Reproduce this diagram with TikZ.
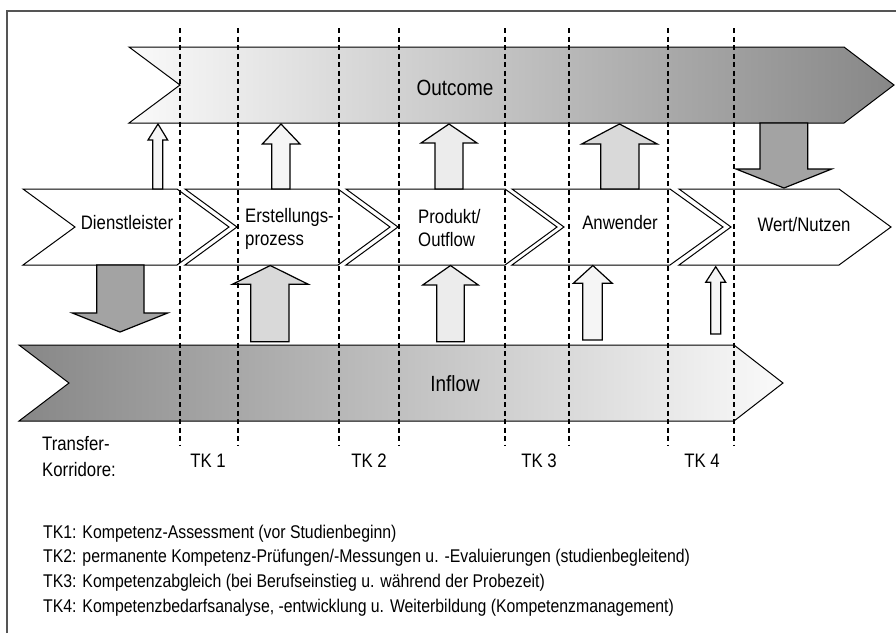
\documentclass[tikz,border=0pt]{standalone}
\usepackage{fontspec}
\setmainfont{Liberation Sans}[FakeStretch=0.86]
\usepackage{xcolor}

\definecolor{framegray}{HTML}{555555}
\definecolor{banddark}{HTML}{878787}
\definecolor{bandlight}{HTML}{FAFAFA}
\definecolor{arrowdark}{HTML}{A3A3A3}
\definecolor{arrowmid}{HTML}{D9D9D9}
\definecolor{arrowlight}{HTML}{ECECEC}
\definecolor{arrowpale}{HTML}{F5F5F5}

\tikzset{
    band/.style={draw=black, line width=1pt},
    stage/.style={draw=black, fill=white, line width=1pt},
    blockarrow/.style={draw=black, line width=1.2pt, line join=miter},
    corridor/.style={black, line width=1.2pt, dash pattern=on 5pt off 3.5pt},
    bigtext/.style={font=\fontsize{22}{26}\selectfont},
    boxtext/.style={font=\fontsize{19.5}{23}\selectfont},
    legtext/.style={font=\fontsize{18.4}{22}\selectfont, anchor=base west, inner sep=0pt},
}

\begin{document}
\begin{tikzpicture}[x=1pt,y=-1pt]
                \useasboundingbox (0,0) rectangle (896,633);
                \draw[framegray, line width=2pt] (7,633) -- (7,11) -- (896,11);

                \path[band, left color=bandlight, right color=banddark] (129,47) -- (844,47) -- (894,85) -- (844,123) -- (129,123) -- (180,85) -- cycle;
                \path[band, left color=banddark, right color=bandlight] (19,345) -- (734,345) -- (783,383) -- (734,421) -- (19,421) -- (69,383) -- cycle;

                \filldraw[stage] (23,189) -- (177,189) -- (229,227) -- (177,265) -- (23,265) -- (75,227) -- cycle;
                \filldraw[stage] (185,189) -- (338,189) -- (390,227) -- (338,265) -- (185,265) -- (237,227) -- cycle;
                \filldraw[stage] (346,189) -- (505,189) -- (557,227) -- (505,265) -- (346,265) -- (398,227) -- cycle;
                \filldraw[stage] (512,189) -- (670,189) -- (723,227) -- (670,265) -- (512,265) -- (564,227) -- cycle;
                \filldraw[stage] (679,189) -- (839,189) -- (891,227) -- (839,265) -- (679,265) -- (731,227) -- cycle;

                \filldraw[blockarrow, fill=arrowpale] (152.7,189) -- (152.7,140) -- (148,140) -- (158,124) -- (167.7,140) -- (162.7,140) -- (162.7,189) -- cycle;
                \filldraw[blockarrow, fill=arrowpale] (271.7,189) -- (271.7,144) -- (262.3,144) -- (281,124) -- (300,144) -- (290,144) -- (290,189) -- cycle;
                \filldraw[blockarrow, fill=arrowlight] (435,189) -- (435,143) -- (421,143) -- (449,124) -- (477,143) -- (463,143) -- (463,189) -- cycle;
                \filldraw[blockarrow, fill=arrowmid] (600.7,189) -- (600.7,144) -- (581.7,144) -- (619.5,124) -- (657.3,144) -- (639,144) -- (639,189) -- cycle;
                \filldraw[blockarrow, fill=arrowdark] (760,123) -- (760,169) -- (736,169) -- (784,188) -- (831.7,169) -- (807.7,169) -- (807.7,123) -- cycle;

                \filldraw[blockarrow, fill=arrowdark] (96.7,265) -- (96.7,313) -- (72.3,313) -- (120,332) -- (167.7,313) -- (144,313) -- (144,265) -- cycle;
                \filldraw[blockarrow, fill=arrowmid] (250.7,341.7) -- (250.7,284.3) -- (232.3,284.3) -- (270.3,265.5) -- (308.3,284.3) -- (289,284.3) -- (289,341.7) -- cycle;
                \filldraw[blockarrow, fill=arrowlight] (436.7,341.7) -- (436.7,285) -- (422.7,285) -- (450.5,265.5) -- (478.3,285) -- (464.3,285) -- (464.3,341.7) -- cycle;
                \filldraw[blockarrow, fill=arrowpale] (582.7,340) -- (582.7,283.3) -- (573.3,283.3) -- (592.8,265.5) -- (612.3,283.3) -- (602.3,283.3) -- (602.3,340) -- cycle;
                \filldraw[blockarrow, fill=arrowpale] (710.7,334) -- (710.7,282.3) -- (705.7,282.3) -- (715.7,266.7) -- (725.7,282.3) -- (720.7,282.3) -- (720.7,334) -- cycle;

                \foreach \x in {180,238,339,399,505,569,668,734} {
                    \draw[corridor] (\x,28) -- (\x,446);
                }

                \node[bigtext] (outcome) at (455,88) {Outcome};
                \node[bigtext] (inflow) at (455,384) {Inflow};

                \node[boxtext] (dienst) at (127,223) {Dienstleister};
                \node[boxtext, anchor=west, align=left, inner sep=0pt] (erstellung) at (245,228.5) {Erstellungs-\\prozess};
                \node[boxtext, anchor=west, align=left, inner sep=0pt] (produkt) at (418,228.5) {Produkt/\\Outflow};
                \node[boxtext] (anwender) at (620,223) {Anwender};
                \node[boxtext] (wert) at (804,225) {Wert/Nutzen};

                \node[boxtext, anchor=west, align=left, inner sep=0pt, font=\fontsize{19.5}{26}\selectfont] (transfer) at (42,457) {Transfer-\\Korridore:};
                \node[boxtext] (tk1) at (208,461) {TK 1};
                \node[boxtext] (tk2) at (369,461) {TK 2};
                \node[boxtext] (tk3) at (539,461) {TK 3};
                \node[boxtext] (tk4) at (702,461) {TK 4};

                \foreach[count=\i] \txt in {{TK1: Kompetenz-Assessment (vor Studienbeginn)},
                        {TK2: permanente Kompetenz-Prüfungen/-Messungen u. -Evaluierungen (studienbegleitend)},
                        {TK3: Kompetenzabgleich (bei Berufseinstieg u. während der Probezeit)},
                        {TK4: Kompetenzbedarfsanalyse, -entwicklung u. Weiterbildung (Kompetenzmanagement)}} {
                    \node[legtext] (legend\i) at (43,513.3+24.7*\i) {\txt};
                }
            \end{tikzpicture}
\end{document}
